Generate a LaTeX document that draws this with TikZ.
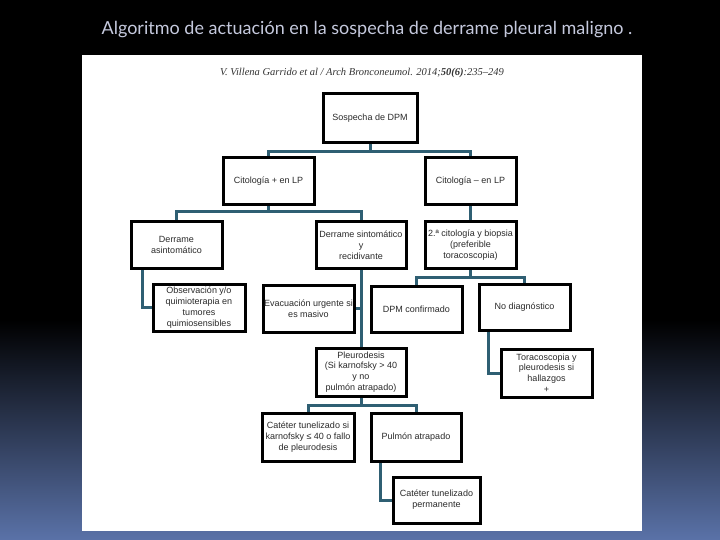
\documentclass[tikz,border=0pt]{standalone}
\usepackage{fontspec}
\setmainfont{Liberation Sans}
\newfontfamily\titlefont{Lato}
\newfontfamily\citefont{Liberation Serif}
\definecolor{bgblue}{HTML}{5A72A8}
\definecolor{conn}{HTML}{2F5F73}
\definecolor{titlegray}{HTML}{C5C9DD}
\definecolor{boxtext}{HTML}{2A2A2A}
\pgfdeclarelayer{backdrop}
\pgfdeclarelayer{links}
\pgfsetlayers{backdrop,links,main}
\begin{document}
\begin{tikzpicture}[x=1pt,y=-1pt,
  flowbox/.style={draw=black, line width=3pt, fill=white, align=center, inner sep=0pt,
    minimum width=91pt, minimum height=47pt, text=boxtext,
    font=\fontsize{9}{10.8}\selectfont},
  link/.style={draw=conn, line width=3pt}]
\useasboundingbox (0,0) rectangle (720,540);
\begin{pgfonlayer}{backdrop}
% background
\fill[black] (0,0) rectangle (720,540);
\shade[top color=black, bottom color=bgblue] (0,320) rectangle (720,540);
% panel
\fill[white] (82,55) rectangle (642,531);
\end{pgfonlayer}
% title
\node[text=titlegray, font=\titlefont\fontsize{18}{21}\selectfont] (title) at (367,30)
  {Algoritmo de actuación en la sospecha de derrame pleural maligno .};
% citation
\node[text=black!80, font=\citefont\itshape\fontsize{10.5}{12}\selectfont] (cite) at (362,73)
  {V. Villena Garrido et al / Arch Bronconeumol. 2014;\textbf{50(6)}:235–249};
% boxes
\node[flowbox, minimum width=94pt, minimum height=49pt] (sos) at (370,118.5) {Sospecha de DPM};
\node[flowbox] (cpos) at (268.5,181.5) {Citología + en LP};
\node[flowbox] (cneg) at (470.5,181.5) {Citología – en LP};
\node[flowbox, minimum height=46pt] (dasin) at (176.5,245) {Derrame\\asintomático};
\node[flowbox, minimum width=90pt, minimum height=46pt] (dsin) at (361,245) {Derrame sintomático\\y\\recidivante};
\node[flowbox, minimum height=46pt] (bio) at (470.5,245) {2.ª citología y biopsia\\(preferible\\toracoscopia)};
\node[flowbox, minimum width=92pt] (obs) at (199,307.5) {Observación y/o\\quimioterapia en\\tumores\\quimiosensibles};
\node[flowbox] (evac) at (308.5,308.5) {Evacuación urgente si\\es masivo};
\node[flowbox, minimum height=46pt] (dpmc) at (416.5,309) {DPM confirmado};
\node[flowbox, minimum height=46pt] (nodiag) at (524.5,307) {No diagnóstico};
\node[flowbox, minimum width=90pt, minimum height=48pt] (pleu) at (361,372) {Pleurodesis\\(Si karnofsky > 40\\y no\\pulmón atrapado)};
\node[flowbox, minimum height=48pt] (tora) at (546.5,373) {Toracoscopia y\\pleurodesis si\\hallazgos\\+};
\node[flowbox, minimum width=92pt, minimum height=48pt] (cat1) at (308,437) {Catéter tunelizado si\\karnofsky ≤ 40 o fallo\\de pleurodesis};
\node[flowbox, minimum width=90pt, minimum height=48pt] (pulm) at (416,437) {Pulmón atrapado};
\node[flowbox, minimum width=87pt, minimum height=46pt] (cat2) at (436.5,500) {Catéter tunelizado\\permanente};
% bus levels
\coordinate (b1) at (0,152);
\coordinate (b2) at (0,212);
\coordinate (b3) at (0,277);
\coordinate (b4) at (0,405);
% connectors
\begin{pgfonlayer}{links}
\path[link] (sos.south) -- (sos.south |- b1);
\path[link] (cpos.north) -- (cpos.north |- b1) -| (cneg.north);
\path[link] (cpos.south) -- (cpos.south |- b2);
\path[link] (dasin.north) -- (dasin.north |- b2) -| (dsin.north);
\path[link] (cneg.south) -- (bio.north);
\path[link] ([xshift=-34.5pt]dasin.south) |- (obs.west);
\path[link] (dsin.south) -- (pleu.north);
\path[link] (evac.east) -- (evac.east -| dsin.south);
\path[link] (bio.south) -- (bio.south |- b3);
\path[link] (dpmc.north) -- (dpmc.north |- b3) -| (nodiag.north);
\path[link] ([xshift=-36.5pt]nodiag.south) |- (tora.west);
\path[link] (pleu.south) -- (pleu.south |- b4);
\path[link] (cat1.north) -- (cat1.north |- b4) -| (pulm.north);
\path[link] ([xshift=-36pt]pulm.south) |- (cat2.west);
\end{pgfonlayer}
\end{tikzpicture}
\end{document}
